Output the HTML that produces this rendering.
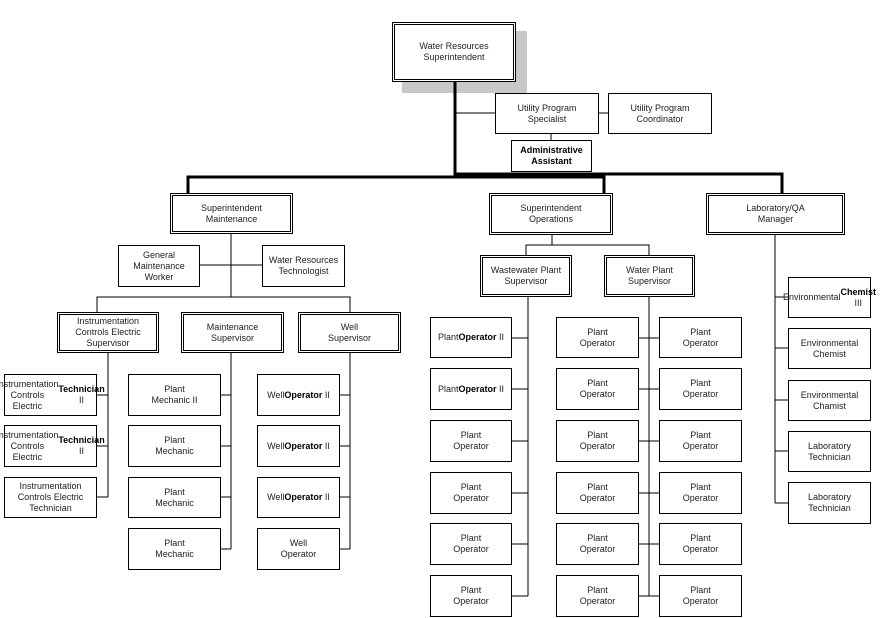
<!DOCTYPE html>
<html><head><meta charset="utf-8"><style>
html,body{margin:0;padding:0;background:#fff;}
body{width:895px;height:618px;position:relative;overflow:hidden;font-family:"Liberation Sans",Arial,sans-serif;}
.b{position:absolute;box-sizing:border-box;border:1px solid #000;background:#fff;display:flex;align-items:center;justify-content:center;text-align:center;font-size:9px;line-height:11px;color:#222;}
.d{border:3px double #000;}
b{color:#000;}
svg{position:absolute;left:0;top:0;}
</style></head><body>
<div style="position:absolute;left:402px;top:31px;width:125px;height:62px;background:#c8c8c8"></div>
<svg width="895" height="618">
<g stroke="#000" stroke-width="3" fill="none">
<path d="M455 82 V177"/>
<path d="M188 193 V177 H604 V193"/>
<path d="M455 174 H782 V193"/>
</g>
<g stroke="#000" stroke-width="1" fill="none">
<path d="M455 113 H495 M580 113 H608 M551 134 V140"/>
<path d="M231 234 V297 M200 265 H262 M97 313 V297 H350 V313"/>
<path d="M108 353 V497 M97 395 H108 M97 446 H108 M97 497 H108"/>
<path d="M231 353 V549 M221 395 H231 M221 446 H231 M221 497 H231 M221 549 H231"/>
<path d="M350 353 V549 M340 395 H350 M340 446 H350 M340 497 H350 M340 549 H350"/>
<path d="M552 235 V245 M526 255 V245 H649 V255"/>
<path d="M528 297 V596 M512 338 H528 M512 389 H528 M512 441 H528 M512 493 H528 M512 544 H528 M512 596 H528"/>
<path d="M649 297 V596 M639 338 H659 M639 389 H659 M639 441 H659 M639 493 H659 M639 544 H659 M639 596 H659"/>
<path d="M775 235 V503 M775 297 H788 M775 348 H788 M775 400 H788 M775 451 H788 M775 503 H788"/>
</g>
</svg>
<div class="b d" style="left:392px;top:22px;width:124px;height:60px">Water Resources<br>Superintendent</div>
<div class="b" style="left:495px;top:93px;width:104px;height:41px">Utility Program<br>Specialist</div>
<div class="b" style="left:608px;top:93px;width:104px;height:41px">Utility Program<br>Coordinator</div>
<div class="b" style="left:511px;top:140px;width:81px;height:32px"><b>Administrative<br>Assistant</b></div>
<div class="b d" style="left:170px;top:193px;width:123px;height:41px">Superintendent<br>Maintenance</div>
<div class="b d" style="left:489px;top:193px;width:124px;height:42px">Superintendent<br>Operations</div>
<div class="b d" style="left:706px;top:193px;width:139px;height:42px">Laboratory/QA<br>Manager</div>
<div class="b" style="left:118px;top:245px;width:82px;height:42px">General<br>Maintenance<br>Worker</div>
<div class="b" style="left:262px;top:245px;width:83px;height:42px">Water Resources<br>Technologist</div>
<div class="b d" style="left:57px;top:312px;width:102px;height:41px">Instrumentation<br>Controls Electric<br>Supervisor</div>
<div class="b d" style="left:181px;top:312px;width:103px;height:41px">Maintenance<br>Supervisor</div>
<div class="b d" style="left:298px;top:312px;width:103px;height:41px">Well<br>Supervisor</div>
<div class="b" style="left:4px;top:374px;width:93px;height:42px">Instrumentation<br>Controls Electric<br><span><b>Technician</b> II</span></div>
<div class="b" style="left:4px;top:425px;width:93px;height:42px">Instrumentation<br>Controls Electric<br><span><b>Technician</b> II</span></div>
<div class="b" style="left:4px;top:477px;width:93px;height:41px">Instrumentation<br>Controls Electric<br>Technician</div>
<div class="b" style="left:128px;top:374px;width:93px;height:42px">Plant<br>Mechanic II</div>
<div class="b" style="left:128px;top:425px;width:93px;height:42px">Plant<br>Mechanic</div>
<div class="b" style="left:128px;top:477px;width:93px;height:41px">Plant<br>Mechanic</div>
<div class="b" style="left:128px;top:528px;width:93px;height:42px">Plant<br>Mechanic</div>
<div class="b" style="left:257px;top:374px;width:83px;height:42px">Well<br><span><b>Operator</b> II</span></div>
<div class="b" style="left:257px;top:425px;width:83px;height:42px">Well<br><span><b>Operator</b> II</span></div>
<div class="b" style="left:257px;top:477px;width:83px;height:41px">Well<br><span><b>Operator</b> II</span></div>
<div class="b" style="left:257px;top:528px;width:83px;height:42px">Well<br>Operator</div>
<div class="b d" style="left:480px;top:255px;width:92px;height:42px">Wastewater Plant<br>Supervisor</div>
<div class="b d" style="left:604px;top:255px;width:91px;height:42px">Water Plant<br>Supervisor</div>
<div class="b" style="left:430px;top:317px;width:82px;height:41px">Plant<br><span><b>Operator</b> II</span></div>
<div class="b" style="left:430px;top:368px;width:82px;height:42px">Plant<br><span><b>Operator</b> II</span></div>
<div class="b" style="left:430px;top:420px;width:82px;height:42px">Plant<br>Operator</div>
<div class="b" style="left:430px;top:472px;width:82px;height:42px">Plant<br>Operator</div>
<div class="b" style="left:430px;top:523px;width:82px;height:42px">Plant<br>Operator</div>
<div class="b" style="left:430px;top:575px;width:82px;height:42px">Plant<br>Operator</div>
<div class="b" style="left:556px;top:317px;width:83px;height:41px">Plant<br>Operator</div>
<div class="b" style="left:556px;top:368px;width:83px;height:42px">Plant<br>Operator</div>
<div class="b" style="left:556px;top:420px;width:83px;height:42px">Plant<br>Operator</div>
<div class="b" style="left:556px;top:472px;width:83px;height:42px">Plant<br>Operator</div>
<div class="b" style="left:556px;top:523px;width:83px;height:42px">Plant<br>Operator</div>
<div class="b" style="left:556px;top:575px;width:83px;height:42px">Plant<br>Operator</div>
<div class="b" style="left:659px;top:317px;width:83px;height:41px">Plant<br>Operator</div>
<div class="b" style="left:659px;top:368px;width:83px;height:42px">Plant<br>Operator</div>
<div class="b" style="left:659px;top:420px;width:83px;height:42px">Plant<br>Operator</div>
<div class="b" style="left:659px;top:472px;width:83px;height:42px">Plant<br>Operator</div>
<div class="b" style="left:659px;top:523px;width:83px;height:42px">Plant<br>Operator</div>
<div class="b" style="left:659px;top:575px;width:83px;height:42px">Plant<br>Operator</div>
<div class="b" style="left:788px;top:277px;width:83px;height:41px">Environmental<br><span><b>Chemist</b> III</span></div>
<div class="b" style="left:788px;top:328px;width:83px;height:41px">Environmental<br>Chemist</div>
<div class="b" style="left:788px;top:380px;width:83px;height:41px">Environmental<br>Chamist</div>
<div class="b" style="left:788px;top:431px;width:83px;height:41px">Laboratory<br>Technician</div>
<div class="b" style="left:788px;top:482px;width:83px;height:42px">Laboratory<br>Technician</div>
</body></html>
